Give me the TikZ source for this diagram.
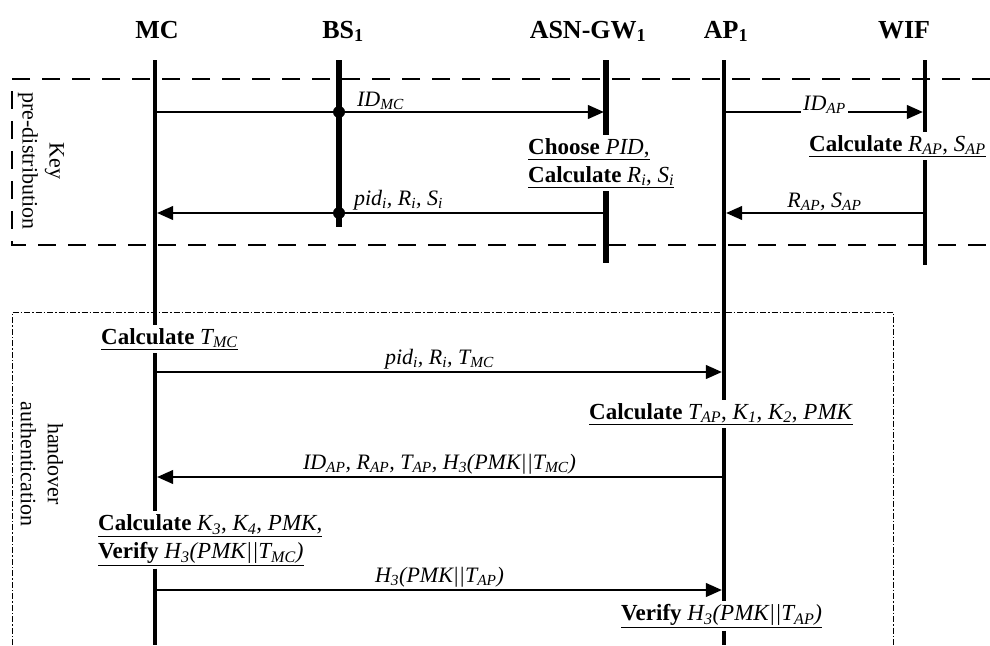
\documentclass[tikz,border=0pt]{standalone}
\usepackage{fontspec}
\setmainfont{Liberation Serif}
\usepackage{tikz}
\usetikzlibrary{arrows.meta}
\newcommand{\isub}[2]{\textit{#1\textsubscript{#2}}}

\begin{document}
\begin{tikzpicture}[x=1pt, y=-1pt,
  head/.style={font=\fontsize{26}{30}\selectfont\bfseries, anchor=base},
  note/.style={font=\fontsize{23}{28}\selectfont, anchor=west, align=left,
               inner xsep=1pt, inner ysep=3pt},
  lbl/.style={font=\fontsize{22}{26}\selectfont\itshape, inner sep=2pt},
  side/.style={font=\fontsize{22}{27}\selectfont, rotate=-90, align=center},
  life/.style={line width=4.5pt},
  msg/.style={line width=1.2pt, shorten >=2.2pt,
              -{Triangle[length=16pt,width=14pt]}},
  dot/.style={circle, fill, inner sep=0pt, minimum size=12pt},
  keybox/.style={line width=1.2pt, dash pattern=on 18pt off 12pt},
  hobox/.style={line width=0.9pt, dash pattern=on 6pt off 2pt on 1.5pt off 2pt}]
\useasboundingbox (0,0) rectangle (990,645);
\draw[keybox] (990,79) -- (12,79) -- (12,245) -- (990,245);
\draw[hobox] (12,645) -- (12,312) -- (893,312) -- (893,645);
\node[side] (keyl) at (41,161) {Key\\pre-distribution};
\node[side] (hol) at (42,464) {handover\\authentication};

\node[head] (mc) at (157,38) {MC};
\node[head] (bs) at (343,38) {BS\textsubscript{1}};
\node[head] (gw) at (588,38) {ASN-GW\textsubscript{1}};
\node[head] (ap) at (726,38) {AP\textsubscript{1}};
\node[head] (wif) at (904,38) {WIF};

\coordinate (mc0) at (155,60);  \coordinate (mc1) at (155,645);
\coordinate (bs0) at (339,60);  \coordinate (bs1) at (339,227);
\coordinate (gw0) at (606,60);  \coordinate (gw1) at (606,263);
\coordinate (ap0) at (724,60);  \coordinate (ap1) at (724,645);
\coordinate (wif0) at (925,60); \coordinate (wif1) at (925,265);
\coordinate (r1) at (0,112); \coordinate (r2) at (0,213);
\coordinate (r3) at (0,372); \coordinate (r4) at (0,477);
\coordinate (r5) at (0,590);

\node[note] (choose) at (527,163)
  {\underline{\textbf{Choose} \textit{PID},}\\
   \underline{\textbf{Calculate} \isub{R}{i}, \isub{S}{i}}};
\node[note] (calcap) at (808,146)
  {\underline{\textbf{Calculate} \isub{R}{AP}, \isub{S}{AP}}};
\node[note] (calctmc) at (100,339) {\underline{\textbf{Calculate} \isub{T}{MC}}};
\node[note] (calctap) at (588,414)
  {\underline{\textbf{Calculate} \isub{T}{AP}, \isub{K}{1}, \isub{K}{2}, \textit{PMK}}};
\node[note] (calcmc) at (97,540)
  {\underline{\textbf{Calculate} \isub{K}{3}, \isub{K}{4}, \textit{PMK},}\\
   \underline{\textbf{Verify} \isub{H}{3}\textit{(PMK||}\isub{T}{MC}\textit{)}}};
\node[note] (verap) at (620,616)
  {\underline{\textbf{Verify} \isub{H}{3}\textit{(PMK||}\isub{T}{AP}\textit{)}}};

\draw[life] (mc0) -- (mc0 |- calctmc.north);
\draw[life] (mc0 |- calctmc.south) -- (mc0 |- calcmc.north);
\draw[life] (mc0 |- calcmc.south) -- (mc1);
\draw[life, line width=6.5pt] (bs0) -- (bs1);
\draw[life, line width=6pt] (gw0) -- (gw0 |- choose.north);
\draw[life, line width=6pt] (gw0 |- choose.south) -- (gw1);
\draw[life] (ap0) -- (ap0 |- calctap.north);
\draw[life] (ap0 |- calctap.south) -- (ap0 |- verap.north);
\draw[life] (ap0 |- verap.south) -- (ap1);
\draw[life] (wif0) -- (wif0 |- calcap.north);
\draw[life] (wif0 |- calcap.south) -- (wif1);

\draw[msg] (mc0 |- r1) -- node[lbl, above, pos=0.5] {\isub{ID}{MC}} (gw0 |- r1);
\node[dot] (d1) at (bs0 |- r1) {};
\draw[msg] (ap0 |- r1) -- node[lbl, fill=white, yshift=7pt] {\isub{ID}{AP}} (wif0 |- r1);
\draw[msg] (wif0 |- r2) -- node[lbl, above] {\isub{R}{AP}, \isub{S}{AP}} (ap0 |- r2);
\draw[msg] (gw0 |- r2) -- node[lbl, above, pos=0.46] {\isub{pid}{i}, \isub{R}{i}, \isub{S}{i}} (mc0 |- r2);
\node[dot] (d2) at (bs0 |- r2) {};
\draw[msg] (mc0 |- r3) -- node[lbl, above] {\isub{pid}{i}, \isub{R}{i}, \isub{T}{MC}} (ap0 |- r3);
\draw[msg] (ap0 |- r4) -- node[lbl, above]
  {\isub{ID}{AP}, \isub{R}{AP}, \isub{T}{AP}, \isub{H}{3}\textit{(PMK||}\isub{T}{MC}\textit{)}} (mc0 |- r4);
\draw[msg] (mc0 |- r5) -- node[lbl, above] {\isub{H}{3}\textit{(PMK||}\isub{T}{AP}\textit{)}} (ap0 |- r5);
\end{tikzpicture}
\end{document}
